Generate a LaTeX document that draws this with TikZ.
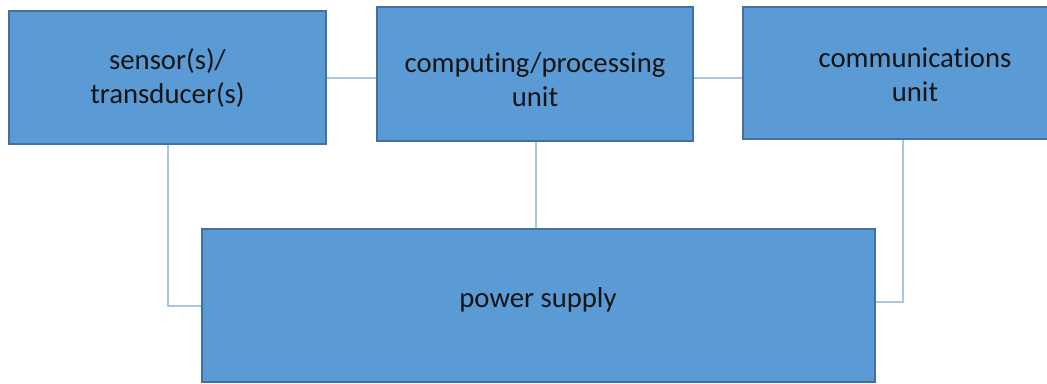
\documentclass[tikz,border=0pt]{standalone}
\usepackage{fontspec}
\setmainfont[Ligatures={NoCommon}]{Carlito}
\definecolor{boxfill}{HTML}{5B9BD5}
\definecolor{boxline}{HTML}{41719C}
\definecolor{linkcol}{HTML}{A9C5E3}
\definecolor{txt}{HTML}{141414}
\begin{document}
\begin{tikzpicture}[x=1bp,y=-1bp,
  blk/.style={draw=boxline,fill=boxfill,line width=1.1bp,inner sep=0pt,
    text=txt,font=\fontsize{28.7bp}{34bp}\selectfont,align=center},
  lbl/.style={text=txt,font=\fontsize{28.7bp}{34bp}\selectfont,align=center},
  link/.style={draw=linkcol,line width=1.5bp}]
\useasboundingbox (0,0) rectangle (1047,383);
\fill[white] (0,0) rectangle (1047,383);
% boxes
\node[blk,minimum width=317bp,minimum height=133bp] (sens) at (167.5,77.5) {sensor(s)/\\transducer(s)};
\node[blk,minimum width=316bp,minimum height=134bp] (comp) at (535,74) {};
\node[lbl] (comptxt) at (535,80) {computing/processing\\unit};
\node[blk,minimum width=345bp,minimum height=132bp] (comm) at (915.5,73) {};
\node[lbl] (commtxt) at (915,75) {communicat{\kern0pt}ions\\unit};
\node[blk,minimum width=673bp,minimum height=153bp] (pow) at (538.5,305.5) {};
\node[lbl] (powtxt) at (538,300) {power supply};
% connectors
\coordinate (sc) at (168,306);
\coordinate (cc) at (903,302);
\draw[link] (sens.east |- 0,78) -- (comp.west |- 0,78);
\draw[link] (comp.east |- 0,78) -- (comm.west |- 0,78);
\draw[link] (comp.south -| 536,0) -- (pow.north -| 536,0);
\draw[link] (168,0 |- sens.south) -- (sc) -- (pow.west |- sc);
\draw[link] (903,0 |- comm.south) -- (cc) -- (pow.east |- cc);
\end{tikzpicture}
\end{document}
